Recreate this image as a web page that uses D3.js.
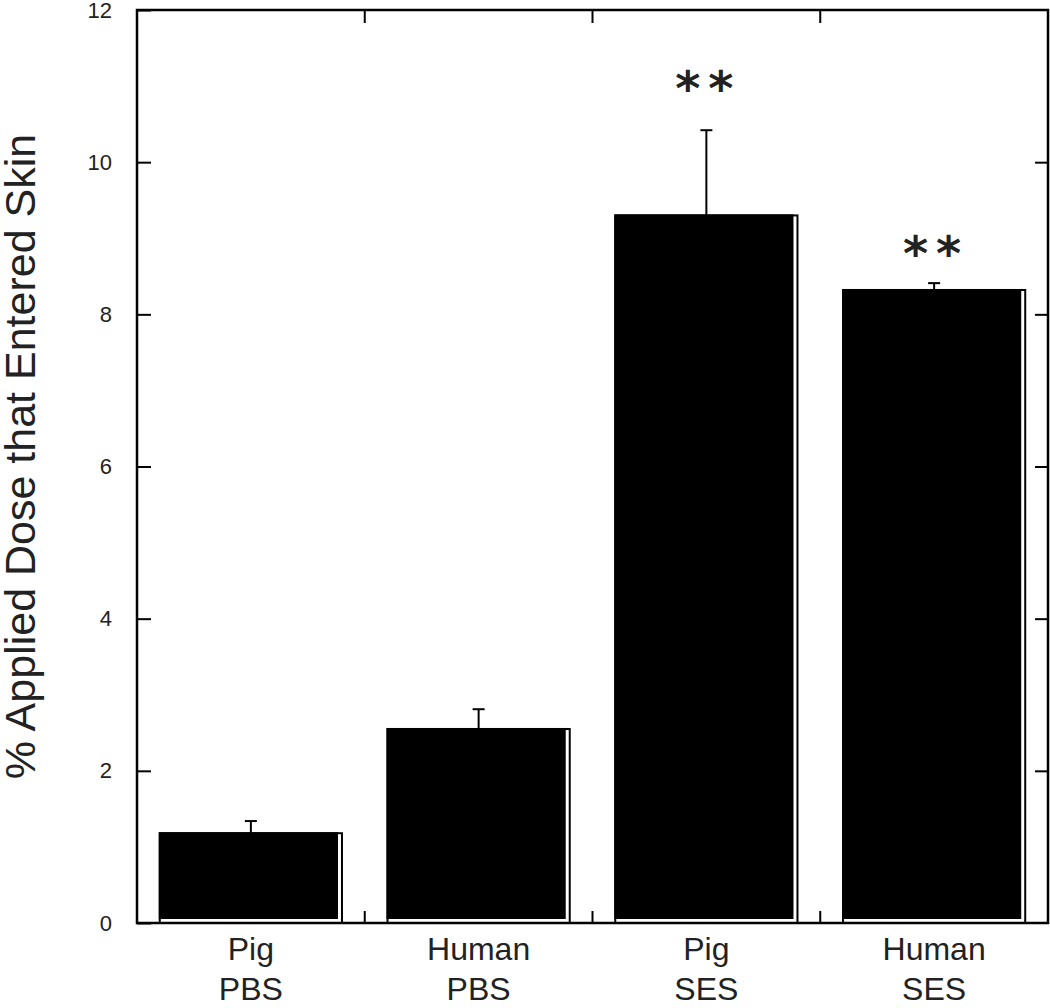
<!DOCTYPE html>
<html>
<head>
<meta charset="utf-8">
<script src="https://cdn.jsdelivr.net/npm/d3@7"></script>
<style>
  html, body { margin: 0; padding: 0; background: #fff; }
  svg { display: block; }
</style>
</head>
<body>
<svg id="chart" width="1050" height="1008"></svg>
<script>
// ---- data ----
const categories = ["Pig\nPBS", "Human\nPBS", "Pig\nSES", "Human\nSES"];
const values = [1.18, 2.55, 9.30, 8.32];
const errors = [0.16, 0.26, 1.12, 0.09];
const significance = ["", "", "**", "**"];
const sigPositions = [null, null, 11.04, 8.87];
const yTicks = [0, 2, 4, 6, 8, 10, 12];
const yTitle = "% Applied Dose that Entered Skin";

(function () {
// ---- layout ----
const pLeft = 137, pRight = 1048, pTop = 10, pBottom = 923;
const svg = d3.select("#chart");

const x = d3.scaleBand()
  .domain(d3.range(categories.length))
  .range([pLeft, pRight])
  .paddingInner(0.2)
  .paddingOuter(0.1);

const y = d3.scaleLinear().domain([0, 12]).range([pBottom, pTop]);

const fontFam = "'Liberation Sans', Arial, sans-serif";

// ---- bars ----
const bars = svg.append("g");
categories.forEach((c, i) => {
  const x0 = x(i), w = x.bandwidth();
  const yt = y(values[i]);
  bars.append("rect")
    .attr("x", x0).attr("y", yt)
    .attr("width", w).attr("height", pBottom - yt)
    .attr("fill", "#fff").attr("stroke", "#000").attr("stroke-width", 2);
  bars.append("rect")
    .attr("x", x0 - 1).attr("y", yt - 1)
    .attr("width", w - 3).attr("height", pBottom - yt - 3)
    .attr("fill", "#000");
});

// ---- error bars ----
const eb = svg.append("g").attr("stroke", "#000").attr("stroke-width", 2);
categories.forEach((c, i) => {
  const cx = x(i) + x.bandwidth() / 2;
  const y1 = y(values[i]);
  const y2 = y(values[i] + errors[i]);
  eb.append("line").attr("x1", cx).attr("x2", cx).attr("y1", y1).attr("y2", y2);
  eb.append("line").attr("x1", cx - 6).attr("x2", cx + 6).attr("y1", y2).attr("y2", y2);
});

// ---- frame and axes ----
const frame = svg.append("g");
const leftAxis = d3.axisLeft(y).tickValues(yTicks).tickSize(-14).tickPadding(25).tickFormat(d3.format("d"));
const gL = frame.append("g").attr("transform", `translate(${pLeft},0)`).call(leftAxis);
gL.select(".domain").remove();
gL.selectAll(".tick line").attr("stroke", "#000").attr("stroke-width", 2);
gL.selectAll(".tick text")
  .attr("font-family", fontFam).attr("font-size", 22).attr("fill", "#222");

const rightAxis = d3.axisRight(y).tickValues(yTicks.slice(1, -1)).tickSize(-13).tickFormat("");
const gR = frame.append("g").attr("transform", `translate(${pRight},0)`).call(rightAxis);
gR.select(".domain").remove();
gR.selectAll(".tick line").attr("stroke", "#000").attr("stroke-width", 2);

const seps = d3.range(1, categories.length).map(i => x(i) - x.step() * x.paddingInner() / 2);
frame.selectAll(".sepB").data(seps).join("line").attr("class", "sepB")
  .attr("x1", d => d).attr("x2", d => d)
  .attr("y1", pBottom).attr("y2", pBottom - 12)
  .attr("stroke", "#000").attr("stroke-width", 2);
frame.selectAll(".sepT").data(seps).join("line").attr("class", "sepT")
  .attr("x1", d => d).attr("x2", d => d)
  .attr("y1", pTop).attr("y2", pTop + 13)
  .attr("stroke", "#000").attr("stroke-width", 2);

frame.append("rect")
  .attr("x", pLeft).attr("y", pTop)
  .attr("width", pRight - pLeft).attr("height", pBottom - pTop)
  .attr("fill", "none").attr("stroke", "#000").attr("stroke-width", 2.5);

// ---- category labels ----
const xl = svg.append("g")
  .attr("font-family", fontFam).attr("font-size", 32).attr("fill", "#222")
  .attr("text-anchor", "middle");
categories.forEach((c, i) => {
  const cx = x(i) + x.bandwidth() / 2;
  const lines = c.split("\n");
  const t = xl.append("text").attr("x", cx).attr("y", 960);
  lines.forEach((ln, k) => {
    t.append("tspan").attr("x", cx).attr("dy", k === 0 ? 0 : 40).text(ln);
  });
});

// ---- significance ----
significance.forEach((s, i) => {
  if (!s) return;
  const cx = x(i) + x.bandwidth() / 2;
  svg.append("text")
    .attr("x", cx + 2).attr("y", y(sigPositions[i]) + 22)
    .attr("text-anchor", "middle")
    .attr("font-family", "'DejaVu Sans', sans-serif")
    .attr("font-weight", "bold")
    .attr("font-size", 48)
    .attr("letter-spacing", 8)
    .attr("fill", "#222")
    .text(s);
});

// ---- y title ----
svg.append("text")
  .attr("transform", `translate(35, ${(133 + 780) / 2}) rotate(-90)`)
  .attr("text-anchor", "middle")
  .attr("font-family", fontFam).attr("font-size", 43).attr("fill", "#222")
  .text(yTitle);
})();
</script>
</body>
</html>
